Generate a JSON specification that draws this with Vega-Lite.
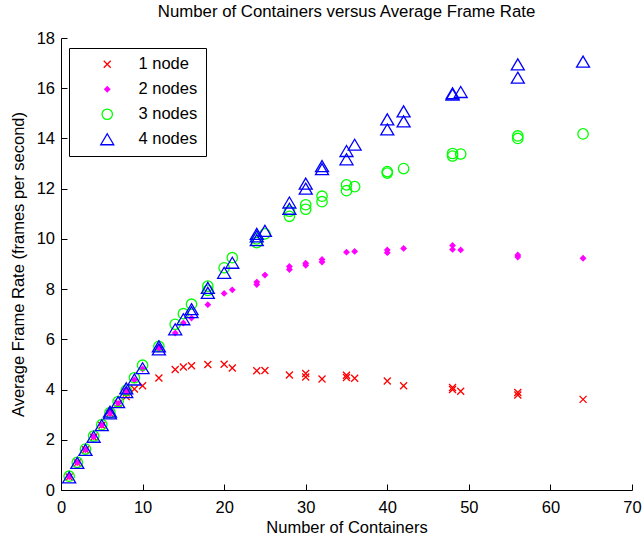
{
  "$schema": "https://vega.github.io/schema/vega-lite/v6.json",
  "width": 571,
  "height": 452,
  "autosize": {"type": "none"},
  "padding": {"left": 61, "top": 38, "right": 12, "bottom": 48},
  "background": "white",
  "title": {"text": "Number of Containers versus Average Frame Rate", "font": "Liberation Sans", "fontSize": 16.8, "fontWeight": "normal", "color": "black", "anchor": "middle", "frame": "group", "offset": 9},
  "config": {
    "view": {"stroke": null},
    "font": "Liberation Sans",
    "axis": {"domainColor": "black", "tickColor": "black", "labelColor": "black", "titleColor": "black", "labelFont": "Liberation Sans", "labelFontSize": 16.5, "titleFont": "Liberation Sans", "titleFontSize": 16.5, "titleFontWeight": "normal", "grid": false, "tickSize": -6, "domainWidth": 1, "tickWidth": 1, "labelFlush": false, "labelOverlap": false}
  },
  "data": {"values": [
    {"n": 1, "fps": 0.52, "s": "1 node"}, {"n": 2, "fps": 1.08, "s": "1 node"}, {"n": 3, "fps": 1.6, "s": "1 node"}, {"n": 4, "fps": 2.1, "s": "1 node"}, {"n": 5, "fps": 2.57, "s": "1 node"}, {"n": 6, "fps": 3.05, "s": "1 node"}, {"n": 7, "fps": 3.45, "s": "1 node"}, {"n": 8, "fps": 3.72, "s": "1 node"}, {"n": 8, "fps": 3.86, "s": "1 node"}, {"n": 9, "fps": 4.02, "s": "1 node"}, {"n": 10, "fps": 4.15, "s": "1 node"}, {"n": 12, "fps": 4.46, "s": "1 node"}, {"n": 14, "fps": 4.8, "s": "1 node"}, {"n": 15, "fps": 4.9, "s": "1 node"}, {"n": 16, "fps": 4.95, "s": "1 node"}, {"n": 18, "fps": 5.0, "s": "1 node"}, {"n": 20, "fps": 5.01, "s": "1 node"}, {"n": 21, "fps": 4.86, "s": "1 node"}, {"n": 24, "fps": 4.75, "s": "1 node"}, {"n": 25, "fps": 4.76, "s": "1 node"}, {"n": 28, "fps": 4.58, "s": "1 node"}, {"n": 30, "fps": 4.64, "s": "1 node"}, {"n": 30, "fps": 4.5, "s": "1 node"}, {"n": 32, "fps": 4.42, "s": "1 node"}, {"n": 35, "fps": 4.57, "s": "1 node"}, {"n": 35, "fps": 4.48, "s": "1 node"}, {"n": 36, "fps": 4.45, "s": "1 node"}, {"n": 40, "fps": 4.34, "s": "1 node"}, {"n": 42, "fps": 4.15, "s": "1 node"}, {"n": 48, "fps": 4.08, "s": "1 node"}, {"n": 48, "fps": 4.0, "s": "1 node"}, {"n": 49, "fps": 3.93, "s": "1 node"}, {"n": 56, "fps": 3.88, "s": "1 node"}, {"n": 56, "fps": 3.78, "s": "1 node"}, {"n": 64, "fps": 3.61, "s": "1 node"},
    {"n": 1, "fps": 0.53, "s": "2 nodes"}, {"n": 2, "fps": 1.09, "s": "2 nodes"}, {"n": 3, "fps": 1.6, "s": "2 nodes"}, {"n": 4, "fps": 2.12, "s": "2 nodes"}, {"n": 5, "fps": 2.58, "s": "2 nodes"}, {"n": 6, "fps": 3.05, "s": "2 nodes"}, {"n": 6, "fps": 3.12, "s": "2 nodes"}, {"n": 7, "fps": 3.45, "s": "2 nodes"}, {"n": 8, "fps": 3.88, "s": "2 nodes"}, {"n": 8, "fps": 4.0, "s": "2 nodes"}, {"n": 9, "fps": 4.38, "s": "2 nodes"}, {"n": 10, "fps": 4.82, "s": "2 nodes"}, {"n": 12, "fps": 5.62, "s": "2 nodes"}, {"n": 12, "fps": 5.7, "s": "2 nodes"}, {"n": 14, "fps": 6.25, "s": "2 nodes"}, {"n": 15, "fps": 6.65, "s": "2 nodes"}, {"n": 16, "fps": 6.85, "s": "2 nodes"}, {"n": 18, "fps": 7.38, "s": "2 nodes"}, {"n": 20, "fps": 7.83, "s": "2 nodes"}, {"n": 21, "fps": 7.97, "s": "2 nodes"}, {"n": 24, "fps": 8.18, "s": "2 nodes"}, {"n": 24, "fps": 8.28, "s": "2 nodes"}, {"n": 25, "fps": 8.56, "s": "2 nodes"}, {"n": 28, "fps": 8.78, "s": "2 nodes"}, {"n": 28, "fps": 8.9, "s": "2 nodes"}, {"n": 30, "fps": 8.95, "s": "2 nodes"}, {"n": 30, "fps": 9.03, "s": "2 nodes"}, {"n": 32, "fps": 9.08, "s": "2 nodes"}, {"n": 32, "fps": 9.18, "s": "2 nodes"}, {"n": 35, "fps": 9.47, "s": "2 nodes"}, {"n": 36, "fps": 9.5, "s": "2 nodes"}, {"n": 40, "fps": 9.45, "s": "2 nodes"}, {"n": 40, "fps": 9.56, "s": "2 nodes"}, {"n": 42, "fps": 9.62, "s": "2 nodes"}, {"n": 48, "fps": 9.58, "s": "2 nodes"}, {"n": 48, "fps": 9.74, "s": "2 nodes"}, {"n": 49, "fps": 9.56, "s": "2 nodes"}, {"n": 56, "fps": 9.28, "s": "2 nodes"}, {"n": 56, "fps": 9.36, "s": "2 nodes"}, {"n": 64, "fps": 9.23, "s": "2 nodes"},
    {"n": 1, "fps": 0.55, "s": "3 nodes"}, {"n": 2, "fps": 1.1, "s": "3 nodes"}, {"n": 3, "fps": 1.63, "s": "3 nodes"}, {"n": 4, "fps": 2.15, "s": "3 nodes"}, {"n": 5, "fps": 2.6, "s": "3 nodes"}, {"n": 6, "fps": 3.08, "s": "3 nodes"}, {"n": 7, "fps": 3.52, "s": "3 nodes"}, {"n": 8, "fps": 3.97, "s": "3 nodes"}, {"n": 9, "fps": 4.47, "s": "3 nodes"}, {"n": 10, "fps": 4.97, "s": "3 nodes"}, {"n": 12, "fps": 5.72, "s": "3 nodes"}, {"n": 14, "fps": 6.6, "s": "3 nodes"}, {"n": 15, "fps": 7.02, "s": "3 nodes"}, {"n": 16, "fps": 7.4, "s": "3 nodes"}, {"n": 18, "fps": 7.95, "s": "3 nodes"}, {"n": 18, "fps": 8.12, "s": "3 nodes"}, {"n": 20, "fps": 8.85, "s": "3 nodes"}, {"n": 21, "fps": 9.25, "s": "3 nodes"}, {"n": 24, "fps": 9.85, "s": "3 nodes"}, {"n": 24, "fps": 10.0, "s": "3 nodes"}, {"n": 25, "fps": 10.2, "s": "3 nodes"}, {"n": 28, "fps": 10.9, "s": "3 nodes"}, {"n": 28, "fps": 11.1, "s": "3 nodes"}, {"n": 30, "fps": 11.18, "s": "3 nodes"}, {"n": 30, "fps": 11.36, "s": "3 nodes"}, {"n": 32, "fps": 11.48, "s": "3 nodes"}, {"n": 32, "fps": 11.7, "s": "3 nodes"}, {"n": 35, "fps": 11.92, "s": "3 nodes"}, {"n": 35, "fps": 12.15, "s": "3 nodes"}, {"n": 36, "fps": 12.08, "s": "3 nodes"}, {"n": 40, "fps": 12.62, "s": "3 nodes"}, {"n": 40, "fps": 12.68, "s": "3 nodes"}, {"n": 42, "fps": 12.8, "s": "3 nodes"}, {"n": 48, "fps": 13.3, "s": "3 nodes"}, {"n": 48, "fps": 13.4, "s": "3 nodes"}, {"n": 49, "fps": 13.38, "s": "3 nodes"}, {"n": 56, "fps": 14.0, "s": "3 nodes"}, {"n": 56, "fps": 14.1, "s": "3 nodes"}, {"n": 64, "fps": 14.18, "s": "3 nodes"},
    {"n": 1, "fps": 0.5, "s": "4 nodes"}, {"n": 2, "fps": 1.08, "s": "4 nodes"}, {"n": 3, "fps": 1.6, "s": "4 nodes"}, {"n": 4, "fps": 2.12, "s": "4 nodes"}, {"n": 5, "fps": 2.58, "s": "4 nodes"}, {"n": 6, "fps": 3.05, "s": "4 nodes"}, {"n": 6, "fps": 3.12, "s": "4 nodes"}, {"n": 7, "fps": 3.5, "s": "4 nodes"}, {"n": 8, "fps": 3.9, "s": "4 nodes"}, {"n": 8, "fps": 4.05, "s": "4 nodes"}, {"n": 9, "fps": 4.4, "s": "4 nodes"}, {"n": 10, "fps": 4.85, "s": "4 nodes"}, {"n": 12, "fps": 5.6, "s": "4 nodes"}, {"n": 12, "fps": 5.72, "s": "4 nodes"}, {"n": 14, "fps": 6.4, "s": "4 nodes"}, {"n": 15, "fps": 6.8, "s": "4 nodes"}, {"n": 16, "fps": 7.08, "s": "4 nodes"}, {"n": 16, "fps": 7.2, "s": "4 nodes"}, {"n": 18, "fps": 7.85, "s": "4 nodes"}, {"n": 18, "fps": 8.05, "s": "4 nodes"}, {"n": 20, "fps": 8.65, "s": "4 nodes"}, {"n": 21, "fps": 9.05, "s": "4 nodes"}, {"n": 24, "fps": 9.95, "s": "4 nodes"}, {"n": 24, "fps": 10.1, "s": "4 nodes"}, {"n": 24, "fps": 10.2, "s": "4 nodes"}, {"n": 25, "fps": 10.32, "s": "4 nodes"}, {"n": 28, "fps": 11.2, "s": "4 nodes"}, {"n": 28, "fps": 11.45, "s": "4 nodes"}, {"n": 30, "fps": 12.0, "s": "4 nodes"}, {"n": 30, "fps": 12.2, "s": "4 nodes"}, {"n": 32, "fps": 12.78, "s": "4 nodes"}, {"n": 32, "fps": 12.9, "s": "4 nodes"}, {"n": 35, "fps": 13.17, "s": "4 nodes"}, {"n": 35, "fps": 13.5, "s": "4 nodes"}, {"n": 36, "fps": 13.75, "s": "4 nodes"}, {"n": 40, "fps": 14.36, "s": "4 nodes"}, {"n": 40, "fps": 14.76, "s": "4 nodes"}, {"n": 42, "fps": 14.68, "s": "4 nodes"}, {"n": 42, "fps": 15.08, "s": "4 nodes"}, {"n": 48, "fps": 15.75, "s": "4 nodes"}, {"n": 48, "fps": 15.8, "s": "4 nodes"}, {"n": 49, "fps": 15.85, "s": "4 nodes"}, {"n": 56, "fps": 16.42, "s": "4 nodes"}, {"n": 56, "fps": 16.95, "s": "4 nodes"}, {"n": 64, "fps": 17.06, "s": "4 nodes"}
  ]},
  "mark": {"type": "point", "size": 4, "strokeWidth": 1.3, "opacity": 1, "strokeOpacity": 1, "fillOpacity": 1},
  "encoding": {
    "x": {"field": "n", "type": "quantitative", "scale": {"domain": [0, 70], "nice": false, "zero": false}, "axis": {"title": "Number of Containers", "values": [0, 10, 20, 30, 40, 50, 60, 70], "labelPadding": 15.5, "titlePadding": 3}},
    "y": {"field": "fps", "type": "quantitative", "scale": {"domain": [0, 18], "nice": false}, "axis": {"title": "Average Frame Rate (frames per second)", "values": [0, 2, 4, 6, 8, 10, 12, 14, 16, 18], "labelPadding": 12.5, "titlePadding": 10}},
    "shape": {"field": "s", "type": "nominal", "scale": {"domain": ["1 node", "2 nodes", "3 nodes", "4 nodes"], "range": ["M-3.5,-3.5L3.5,3.5M-3.5,3.5L3.5,-3.5", "M0,-2.5L2.5,0L0,2.5L-2.5,0Z", "M-5.2,0A5.2,5.2 0 1,0 5.2,0A5.2,5.2 0 1,0 -5.2,0Z", "M0,-5.5L6.5,5.5L-6.5,5.5Z"]}, "legend": {"orient": "none", "legendX": 8, "legendY": 10, "title": null, "strokeColor": "black", "fillColor": "white", "padding": 8, "labelFont": "Liberation Sans", "labelFontSize": 16.5, "labelColor": "black", "rowPadding": 8, "symbolSize": 4, "symbolStrokeWidth": 1.3, "symbolOffset": 22, "labelOffset": 23}},
    "stroke": {"field": "s", "type": "nominal", "scale": {"domain": ["1 node", "2 nodes", "3 nodes", "4 nodes"], "range": ["#FF0000", "#FF00FF", "#00FF00", "#0000FF"]}},
    "fill": {"field": "s", "type": "nominal", "scale": {"domain": ["1 node", "2 nodes", "3 nodes", "4 nodes"], "range": ["transparent", "#FF00FF", "transparent", "transparent"]}}
  }
}
